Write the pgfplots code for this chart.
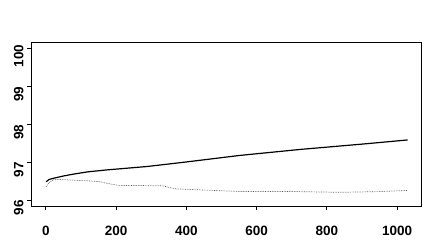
\documentclass[border=0pt]{standalone}
\usepackage{pgfplots}
\pgfplotsset{compat=1.18}
\usepackage{fontspec}
\setmainfont{Liberation Sans}
\begin{document}
\begin{tikzpicture}[x=1pt,y=1pt]
\useasboundingbox (0,0) rectangle (429,252);
\begin{axis}[
  at={(31pt,46pt)}, anchor=south west,
  scale only axis, width=390pt, height=164pt,
  xmin=-42, xmax=1068, ymin=95.84, ymax=100.16,
  xtick={0,200,...,1000}, ytick={96,97,98,99,100},
  tick align=outside, tick pos=left,
  major tick length=4pt,
  axis line style={line width=0.9pt},
  tick style={line width=0.7pt, black},
  /pgf/number format/assume math mode=true,
  /pgf/number format/1000 sep={},
  tick label style={font=\fontsize{13.5}{16}\selectfont\bfseries},
  xticklabel style={yshift=-13pt},
  yticklabel style={rotate=90, anchor=south, xshift=-8pt},
]
\addplot[black, line width=1.2pt] coordinates {
(1,96.48) (10,96.54) (22,96.57) (50,96.63) (79,96.68) (120,96.74) (173,96.79)
(288,96.88) (400,97.00) (550,97.17) (724,97.33) (900,97.47) (1030,97.58)};
\addplot[black!65, line width=0.7pt, densely dotted] coordinates {
(1,96.35) (10,96.46) (22,96.53) (40,96.54) (80,96.52) (126,96.50) (155,96.48)
(173,96.44) (190,96.41) (212,96.38) (260,96.38) (335,96.37) (354,96.32) (373,96.29)
(478,96.25) (560,96.22) (714,96.22) (838,96.20) (950,96.22) (1028,96.25)};
\end{axis}
\end{tikzpicture}
\end{document}
